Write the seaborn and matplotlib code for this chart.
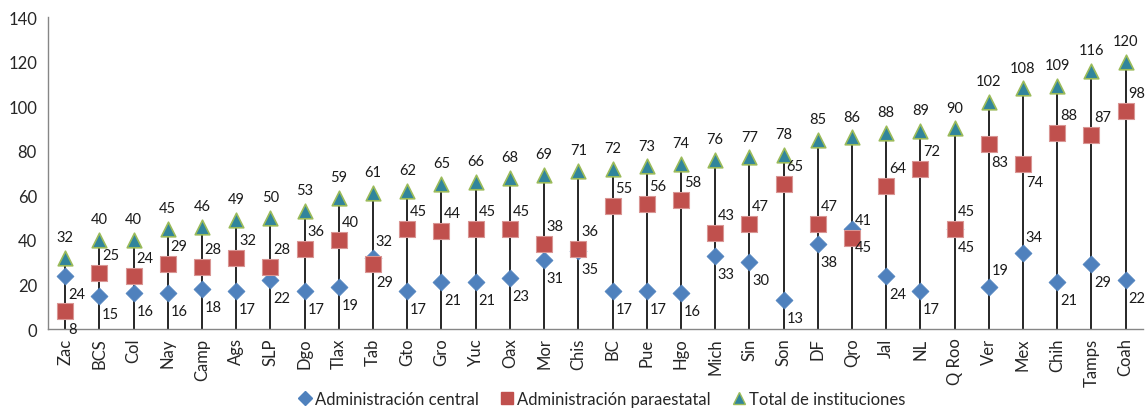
import matplotlib
matplotlib.use("Agg")
import matplotlib.pyplot as plt
from matplotlib.lines import Line2D
import seaborn as sns
import pandas as pd
import numpy as np

estados = ["Zac", "BCS", "Col", "Nay", "Camp", "Ags", "SLP", "Dgo", "Tlax", "Tab",
           "Gto", "Gro", "Yuc", "Oax", "Mor", "Chis", "BC", "Pue", "Hgo", "Mich",
           "Sin", "Son", "DF", "Qro", "Jal", "NL", "Q Roo", "Ver", "Mex", "Chih",
           "Tamps", "Coah"]
central = [24, 15, 16, 16, 18, 17, 22, 17, 19, 32, 17, 21, 21, 23, 31, 35, 17, 17, 16, 33,
           30, 13, 38, 45, 24, 17, 45, 19, 34, 21, 29, 22]
paraestatal = [8, 25, 24, 29, 28, 32, 28, 36, 40, 29, 45, 44, 45, 45, 38, 36, 55, 56, 58, 43,
               47, 65, 47, 41, 64, 72, 45, 83, 74, 88, 87, 98]
total = [32, 40, 40, 45, 46, 49, 50, 53, 59, 61, 62, 65, 66, 68, 69, 71, 72, 73, 74, 76,
         77, 78, 85, 86, 88, 89, 90, 102, 108, 109, 116, 120]
series_names = ["Administración central", "Administración paraestatal", "Total de instituciones"]

# label placement exceptions (style)
central_label_above = {"Tab", "Ver", "Mex"}
para_label_below = {"Zac", "Tab", "Ver", "Mex"}

sns.set_style("white")
plt.rcParams["font.family"] = ["Lato", "DejaVu Sans"]

df = pd.DataFrame({"estado": estados, "central": central,
                   "paraestatal": paraestatal, "total": total})

fig = plt.figure(figsize=(11.45, 4.10), dpi=100)
ax = fig.add_axes([0.042, 0.195, 0.956, 0.761])

x = np.arange(len(estados))
ax.vlines(x, 0, df["total"], color="#262626", lw=1.4, zorder=1)

c_blue = "#4F81BD"
c_red = "#C0504D"
c_teal = "#31859C"
c_green = "#9BBB59"

sns.scatterplot(data=df, x="estado", y="central", ax=ax, marker="D", s=75,
                color=c_blue, edgecolor=c_blue, linewidth=0.5, zorder=3, legend=False)
sns.scatterplot(data=df, x="estado", y="paraestatal", ax=ax, marker="s", s=120,
                color=c_red, edgecolor="#D99694", linewidth=0.8, zorder=4, legend=False)
sns.scatterplot(data=df, x="estado", y="total", ax=ax, marker="^", s=110,
                color=c_teal, edgecolor=c_green, linewidth=1.2, zorder=5, legend=False)

fs = 10.5
for i, e in enumerate(estados):
    dy_c = 12 if e in central_label_above else -13
    dy_p = -13 if e in para_label_below else 13
    ax.annotate(str(central[i]), (i, central[i]), xytext=(2, dy_c), textcoords="offset points",
                ha="left", va="center", fontsize=fs, color="#1a1a1a", zorder=6)
    ax.annotate(str(paraestatal[i]), (i, paraestatal[i]), xytext=(2, dy_p), textcoords="offset points",
                ha="left", va="center", fontsize=fs, color="#1a1a1a", zorder=6)
    ax.annotate(str(total[i]), (i, total[i]), xytext=(0, 15), textcoords="offset points",
                ha="center", va="center", fontsize=fs, color="#1a1a1a", zorder=6)

ax.set_xlim(-0.5, len(estados) - 0.5)
ax.set_ylim(0, 140)
ax.set_yticks(range(0, 141, 20))
ax.set_xticks(x)
ax.set_xticklabels(estados, rotation=90, fontsize=12)
ax.set_xticks(np.arange(-0.5, len(estados), 1), minor=True)
ax.tick_params(axis="x", which="major", length=0, pad=6)
ax.tick_params(axis="x", which="minor", length=5, color="#868686", direction="out")
ax.tick_params(axis="y", length=5, color="#868686", direction="out", labelsize=12, pad=3)
ax.set_xlabel("")
ax.set_ylabel("")
for s in ["top", "right"]:
    ax.spines[s].set_visible(False)
for s in ["left", "bottom"]:
    ax.spines[s].set_color("#868686")
    ax.spines[s].set_linewidth(1.0)

handles = [
    Line2D([], [], marker="D", ls="none", color=c_blue, markersize=7),
    Line2D([], [], marker="s", ls="none", color=c_red, markersize=9),
    Line2D([], [], marker="^", ls="none", markerfacecolor=c_teal, markeredgecolor=c_green, markersize=9),
]
fig.legend(handles, series_names, loc="center", bbox_to_anchor=(0.525, 0.025), ncol=3,
           frameon=False, fontsize=12, handletextpad=0.1, columnspacing=1.2, handlelength=1.0)

fig.savefig("out.png", dpi=100)
